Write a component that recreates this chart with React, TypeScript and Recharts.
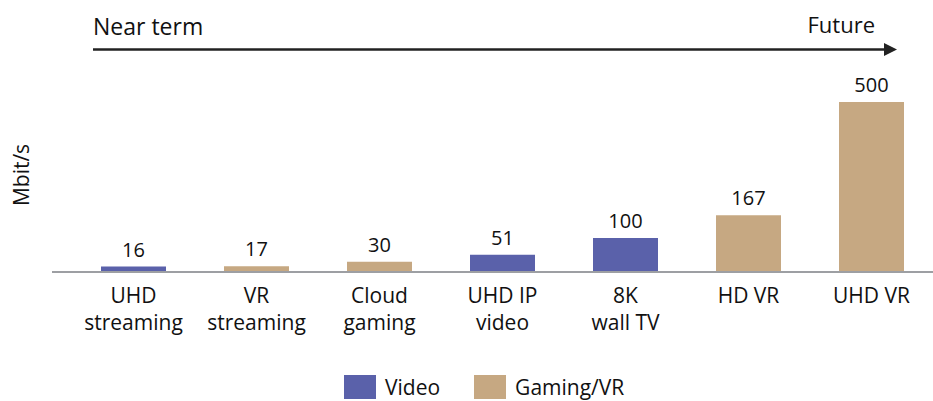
import React from "react"
import { BarChart, Bar, XAxis, YAxis, Cell, LabelList, Customized } from "recharts"

// bandwidth need per service, left = near term, right = future
const categories = [
  ["UHD", "streaming"],
  ["VR", "streaming"],
  ["Cloud", "gaming"],
  ["UHD IP", "video"],
  ["8K", "wall TV"],
  ["HD VR"],
  ["UHD VR"],
]
const values = [16, 17, 30, 51, 100, 167, 500]
const groups = ["Video", "Gaming/VR", "Gaming/VR", "Video", "Video", "Gaming/VR", "Gaming/VR"]
const seriesNames = ["Video", "Gaming/VR"]
const seriesColors: Record<string, string> = { Video: "#5a61aa", "Gaming/VR": "#c6a882" }

const data = categories.map((lines, i) => ({
  name: lines.join(" "),
  lines,
  value: values[i],
  group: groups[i],
}))

const FONT = "'Open Sans', sans-serif"
const INK = "#111"

const CategoryTick = (props: any) => {
  const { x, y, index } = props
  const lines = categories[index] || []
  return (
    <g>
      {lines.map((line, i) => (
        <text key={i} x={x} y={y + 23 + i * 27} textAnchor="middle" fill={INK} fontSize={21} fontFamily={FONT}>
          {line}
        </text>
      ))}
    </g>
  )
}

// timeline arrow and unit label
const Decorations = () => (
  <g fontFamily={FONT} fill={INK}>
    <text x={93} y={35} fontSize={23}>Near term</text>
    <text x={875} y={33} fontSize={22} textAnchor="end">Future</text>
    <line x1={93} y1={49.5} x2={886} y2={49.5} stroke="#222" strokeWidth={2.5} />
    <polygon points="884,43 897,49.5 884,56" fill="#222" />
    <text x={21} y={175} fontSize={21} textAnchor="middle" dominantBaseline="central" transform="rotate(-90 21 175)">
      Mbit/s
    </text>
  </g>
)

export default function App() {
  return (
    <div style={{ position: "absolute", left: 0, top: 0, width: 933, height: 401, background: "#fff" }}>
      <BarChart width={933} height={401} data={data} margin={{ top: 102, right: 0, left: 52, bottom: 69 }}>
        <XAxis
          dataKey="name"
          height={60}
          interval={0}
          padding={{ left: 20, right: 0 }}
          axisLine={{ stroke: "#9d9fa3", strokeWidth: 2 }}
          tickLine={false}
          tick={<CategoryTick />}
        />
        <YAxis hide domain={[0, 500]} />
        <Bar dataKey="value" barSize={65} isAnimationActive={false}>
          {data.map((d, i) => (
            <Cell key={i} fill={seriesColors[d.group]} />
          ))}
          <LabelList dataKey="value" position="top" offset={10} fill={INK} fontSize={20} fontFamily={FONT} />
        </Bar>
        <Customized component={Decorations} />
      </BarChart>
      <div
        style={{
          position: "absolute",
          top: 375,
          left: 344,
          display: "flex",
          alignItems: "center",
          fontFamily: FONT,
          fontSize: 21,
          color: INK,
          lineHeight: "24px",
        }}
      >
        {seriesNames.map((name, i) => (
          <div key={name} style={{ display: "flex", alignItems: "center", marginRight: i === 0 ? 34 : 0 }}>
            <span style={{ width: 32, height: 24, background: seriesColors[name], marginRight: 9 }} />
            <span>{name}</span>
          </div>
        ))}
      </div>
    </div>
  )
}
